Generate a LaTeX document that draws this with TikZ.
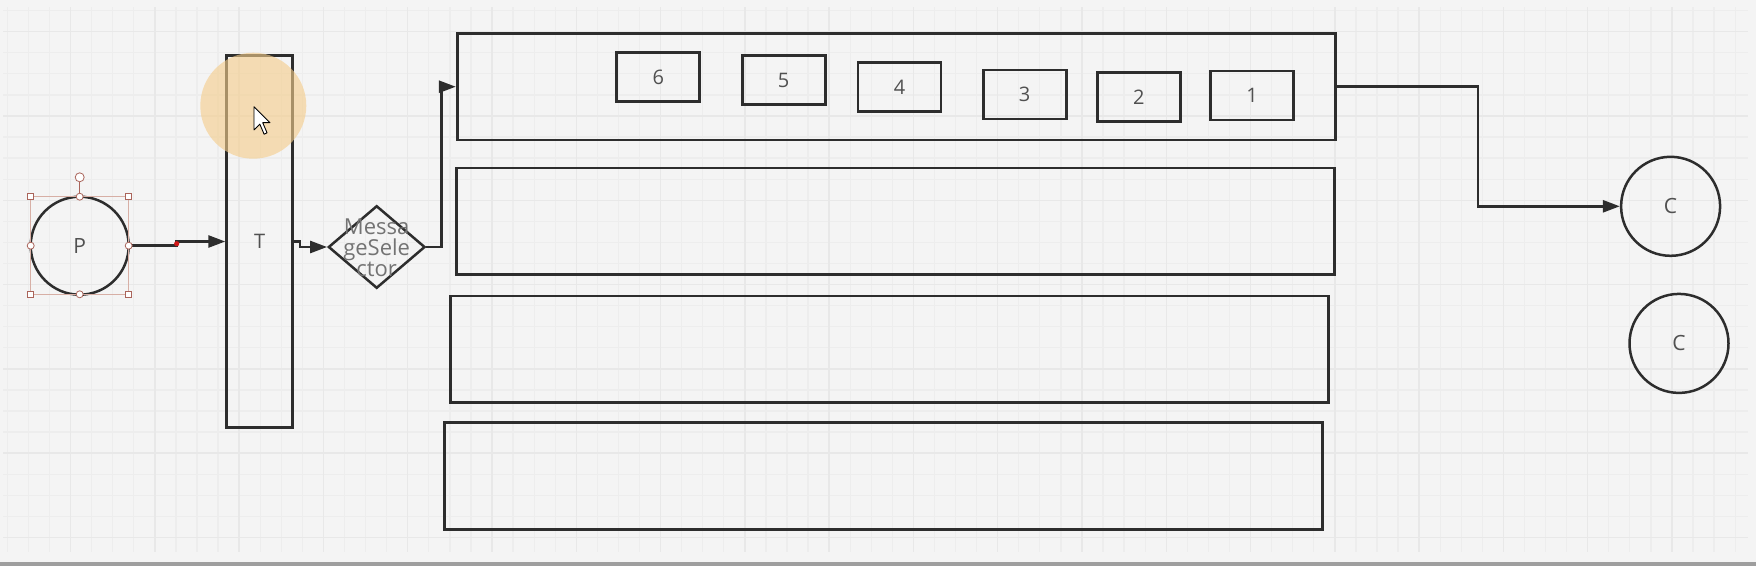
\documentclass[tikz,border=0pt]{standalone}
\usepackage{fontspec}
\setmainfont{Open Sans}
\usetikzlibrary{shapes.geometric,arrows.meta}
\definecolor{bgcol}{RGB}{244,244,244}
\definecolor{gridminor}{RGB}{237,237,237}
\definecolor{gridmajor}{RGB}{232,232,232}
\definecolor{inkcol}{RGB}{45,45,45}
\definecolor{labelcol}{RGB}{80,80,80}
\definecolor{selcol}{RGB}{215,175,165}
\definecolor{handlecol}{RGB}{170,100,90}
\definecolor{glowcol}{RGB}{245,205,140}
\begin{document}
\begin{tikzpicture}[x=1pt,y=-1pt,
    box/.style={draw=inkcol,line width=2.8pt,rectangle,inner sep=0pt,
                font=\fontsize{20}{22}\selectfont,text=labelcol},
    queue/.style={box,minimum width=878pt,minimum height=106.6pt},
    msg/.style={box,minimum width=83pt,minimum height=49pt},
    ring/.style={draw=inkcol,line width=2.5pt,circle,inner sep=0pt,minimum size=98pt,
                 font=\fontsize{21}{23}\selectfont,text=labelcol},
    conn/.style={draw=inkcol,line width=2.6pt,-{Triangle[length=17pt,width=12pt]}},
    handle/.style={draw=handlecol,fill=white,line width=0.8pt}]
    \fill[bgcol] (0,0) rectangle (1756,566);
    \foreach \k in {0,...,82}
        \draw[gridminor,line width=1.3pt] ({7.4+21.07*\k},7) -- ({7.4+21.07*\k},552);
    \foreach \k in {0,...,25}
        \draw[gridminor,line width=1.3pt] (3,{10.6+21.07*\k}) -- (1748,{10.6+21.07*\k});
    \foreach \k in {0,...,19}
        \draw[gridmajor,line width=1.5pt] ({70.6+84.28*\k},7) -- ({70.6+84.28*\k},552);
    \foreach \k in {0,...,6}
        \draw[gridmajor,line width=1.5pt] (3,{31.7+84.28*\k}) -- (1748,{31.7+84.28*\k});
    \fill[black!38] (0,561.5) rectangle (1756,566);

    \node[ring] (P) at (79.7,245.7) {P};
    \node[box,minimum width=66pt,minimum height=372.6pt] (T) at (259.7,241.5) {T};
    \node[draw=inkcol,line width=2.5pt,diamond,inner sep=0pt,
          minimum width=96.7pt,minimum height=82.6pt] (sel) at (376.7,247) {};
    \node[text=black!55,align=center,font=\fontsize{22}{21}\selectfont] (seltext)
        at (376.7,248) {Messa\\geSele\\ctor};

    \node[queue] (q1) at (896.2,86.7) {};
    \node[queue] (q2) at (895.1,221.2) {};
    \node[queue] (q3) at (889.2,349.3) {};
    \node[queue] (q4) at (883.2,476) {};
    \foreach \i/\x/\y in {6/658.3/77.2,5/783.7/80,4/899.5/87.2,3/1024.7/94.5,2/1138.8/96.8,1/1252/95.5}
        \node[msg] (m\i) at (\x,\y) {\i};

    \node[ring,minimum size=99pt] (C1) at (1670.6,206.3) {C};
    \node[ring,minimum size=99pt] (C2) at (1679,343.4) {C};

    \coordinate (pbend) at (176.7,245.7);
    \coordinate (tbend) at (300,241.5);
    \coordinate (sbend) at (441.5,86.7);
    \coordinate (qbend) at (1478,86.7);
    \draw[conn] (P.east) -- (pbend) |- (T.west);
    \draw[conn] (T.east) -- (tbend) |- (sel.west);
    \draw[conn] (sel.east) -| (sbend) -- (q1.west);
    \draw[conn] (q1.east) -- (qbend) |- (C1.west);
    \fill[red!80!black!90] (176.7,243.7) circle (2.6);

    \draw[selcol,line width=0.8pt] (30.7,196.7) rectangle (128.7,294.3);
    \draw[handlecol,line width=1pt] (79.7,181.8) -- (79.7,196.7);
    \foreach \hx/\hy in {30.7/196.7,128.7/196.7,30.7/294.3,128.7/294.3}
        \draw[handle] (\hx-3,\hy-3) rectangle (\hx+3,\hy+3);
    \foreach \hx/\hy in {79.7/196.7,30.7/245.7,128.7/245.7,79.7/294.3}
        \draw[handle] (\hx,\hy) circle (3.5);
    \draw[handle] (79.7,177.3) circle (4.5);

    \fill[glowcol,opacity=0.62] (253.3,105.7) circle (53);
    \draw[black,fill=white,line width=0.9pt,line join=round,shift={(254,106.7)},scale=1.45]
        (0,0) -- (0,16) -- (4,12) -- (7,19) -- (9,18) -- (6,11) -- (11,11) -- cycle;
\end{tikzpicture}
\end{document}
